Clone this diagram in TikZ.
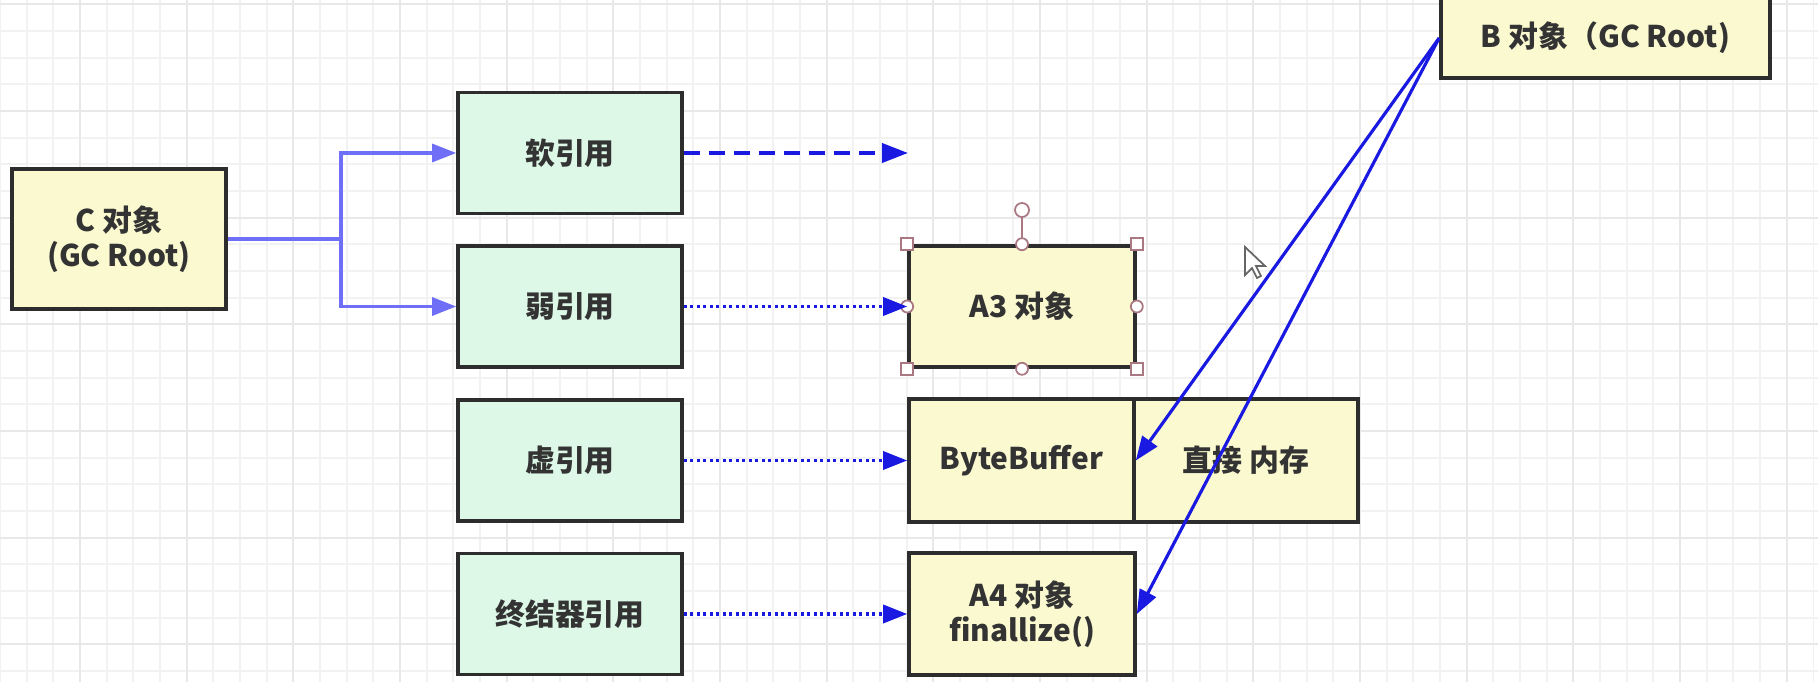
\documentclass[tikz,border=0pt]{standalone}
\usepackage{fontspec}
\setmainfont{Noto Sans CJK SC}
\usepackage{tikz}
\usetikzlibrary{arrows.meta}

\definecolor{gridminor}{RGB}{242,242,242}
\definecolor{gridmajor}{RGB}{232,232,232}
\definecolor{refgreen}{RGB}{221,248,231}
\definecolor{objyellow}{RGB}{250,249,208}
\definecolor{boxline}{RGB}{45,45,45}
\definecolor{textgray}{RGB}{51,51,51}
\definecolor{forkblue}{RGB}{110,110,246}
\definecolor{refblue}{RGB}{25,25,225}
\definecolor{handlered}{RGB}{170,120,130}

\begin{document}
\begin{tikzpicture}[x=0.01cm, y=-0.01cm,
  refbox/.style={draw=boxline, line width=1pt, fill=refgreen, text=textgray,
    minimum width=2.24cm, minimum height=1.21cm, align=center,
    font=\bfseries\fontsize{8.5}{10}\selectfont},
  objbox/.style={refbox, fill=objyellow},
  forkline/.style={draw=forkblue, line width=0.9pt, -{Triangle[length=0.24cm,width=0.18cm]}},
  dashline/.style={draw=refblue, line width=1.1pt, dash pattern=on 0.16cm off 0.09cm, -{Triangle[length=0.26cm,width=0.19cm]}},
  dotline/.style={draw=refblue, line width=1pt, dash pattern=on 0.03cm off 0.035cm, -{Triangle[length=0.24cm,width=0.18cm]}},
  rootline/.style={draw=refblue, line width=0.9pt, -{Triangle[length=0.24cm,width=0.18cm]}},
  handle/.style={draw=handlered, line width=0.5pt, fill=white}]

\clip (0,0) rectangle (1818,682);
\fill[white] (0,0) rectangle (1818,682);

% grid
\foreach \i in {0,...,68}
  \draw[gridminor, line width=0.5pt] (\i*26.667,0) -- (\i*26.667,682);
\foreach \i in {0,...,25}
  \draw[gridminor, line width=0.5pt] (0,4.3+\i*26.667) -- (1818,4.3+\i*26.667);
\foreach \i in {0,...,16}
  \draw[gridmajor, line width=0.6pt] (80+\i*106.667,0) -- (80+\i*106.667,682);
\foreach \i in {0,...,6}
  \draw[gridmajor, line width=0.6pt] (0,4.3+\i*106.667) -- (1818,4.3+\i*106.667);

\node[objbox, minimum width=2.14cm, minimum height=1.40cm] (C) at (119,239) {C 对象\\(GC Root)};

\node[refbox] (soft) at (570,153) {软引用};
\node[refbox] (weak) at (570,306.5) {弱引用};
\node[refbox] (phantom) at (570,460.5) {虚引用};
\node[refbox] (final) at (570,614) {终结器引用};

\node[objbox, minimum width=2.26cm] (A3) at (1022,306.5) {A3 对象};
\node[objbox, minimum width=2.25cm, minimum height=1.23cm] (buf) at (1021.5,460.5) {ByteBuffer};
\node[objbox, minimum width=2.24cm, minimum height=1.23cm] (mem) at (1246,460.5) {直接 内存};
\node[objbox, minimum width=2.26cm, minimum height=1.22cm] (A4) at (1022,614) {A4 对象\\finallize()};

\node[objbox, minimum width=3.29cm, minimum height=0.80cm] (B) at (1605.5,38) {B 对象（GC Root)};

% selection handles
\coordinate (rot) at (1022,210);
\draw[handlered, line width=0.6pt] (A3.north) -- (rot);
\draw[handle] (rot) circle[radius=0.07cm];
\foreach \p in {north west, north east, south west, south east}
  \draw[handle] (A3.\p) +(-6,-6) rectangle +(6,6);
\foreach \p in {north, south, east, west}
  \draw[handle] (A3.\p) circle[radius=0.06cm];

% references
\coordinate (fork) at (341,239);
\draw[forkline] (C) -- (fork) |- (soft);
\draw[forkline] (fork) |- (weak);

\coordinate (softend) at (908,153);
\draw[dashline] (soft) -- (softend);
\draw[dotline] (weak) -- (A3);
\draw[dotline] (phantom) -- (buf);
\draw[dotline] (final) -- (A4);

\draw[rootline] (B.west) -- (buf.east);
\draw[rootline] (B.west) -- (A4.east);

% cursor
\draw[draw=black!60, fill=white, line width=0.5pt] (1245,247) -- ++(0,28) -- ++(7,-7)
  -- ++(5,10) -- ++(4,-2) -- ++(-5,-10) -- ++(9,0) -- cycle;
\end{tikzpicture}
\end{document}
